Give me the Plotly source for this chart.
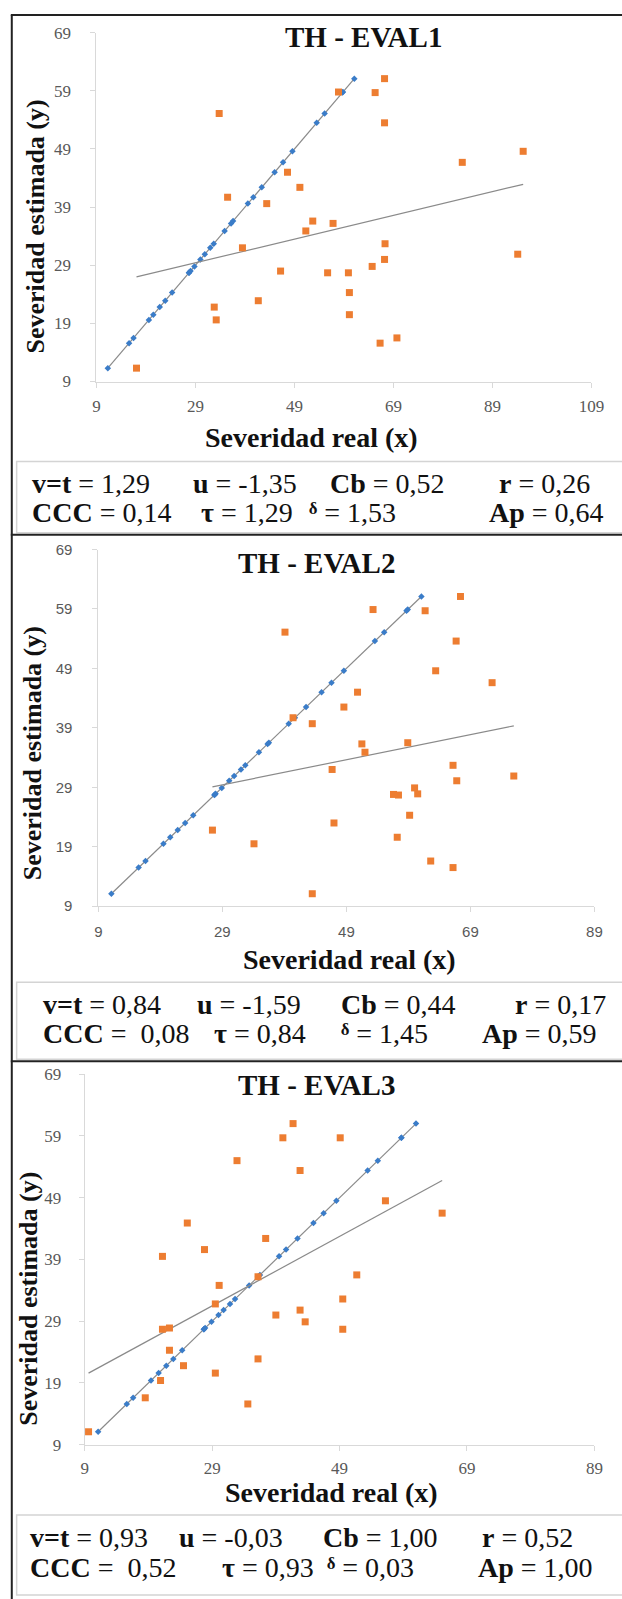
import numpy as np
import plotly.graph_objects as go

W, H = 622, 1599

# ---------------- data ----------------
titles = ["TH - EVAL1", "TH - EVAL2", "TH - EVAL3"]
x_ticks_1 = [9, 29, 49, 69, 89, 109]
x_ticks_23 = [9, 29, 49, 69, 89]
y_ticks = [9, 19, 29, 39, 49, 59, 69]

x1 = [33.8, 35.5, 32.8, 33.2, 17.1, 38.5, 41.7, 43.4, 46.2, 47.6, 50.1, 51.3, 52.7, 55.7, 56.8,
      57.9, 59.9, 60.1, 60.1, 64.7, 65.3, 66.3, 67.2, 67.2, 67.3, 67.2, 69.7, 82.9, 94.1, 95.2]
y1 = [55.1, 40.7, 21.8, 19.6, 11.3, 32.0, 22.9, 39.6, 28.0, 45.0, 42.4, 34.9, 36.6, 27.7, 36.2,
      58.8, 27.7, 24.3, 20.5, 28.8, 58.7, 15.6, 61.1, 53.5, 32.7, 30.0, 16.5, 46.7, 30.9, 48.6]

x2 = [27.4, 34.1, 39.1, 40.4, 43.5, 43.5, 46.7, 47.0, 48.6, 50.8, 51.5, 52.0, 53.3, 56.6, 57.4,
      57.2, 58.9, 59.2, 60.0, 60.5, 61.7, 62.6, 63.4, 66.2, 66.2, 66.7, 66.8, 67.4, 72.5, 76.0]
y2 = [21.8, 19.5, 55.1, 40.7, 39.7, 11.1, 32.0, 23.0, 42.5, 45.0, 36.3, 34.9, 58.9, 27.8, 27.7,
      20.6, 36.5, 24.3, 28.9, 27.9, 58.7, 16.6, 48.6, 32.7, 15.5, 53.6, 30.1, 61.1, 46.6, 30.9]

x3 = [9.6, 18.5, 20.9, 21.2, 21.2, 22.3, 22.3, 24.5, 25.1, 27.8, 29.5, 29.5, 30.1, 32.9, 34.6,
      36.2, 36.2, 37.4, 39.0, 40.1, 41.7, 42.8, 42.8, 43.6, 49.1, 49.5, 49.5, 51.7, 56.2, 65.1]
y3 = [11.1, 16.6, 19.4, 39.5, 27.7, 27.9, 24.3, 21.8, 44.9, 40.6, 20.6, 31.8, 34.8, 55.0, 15.6,
      22.9, 36.2, 42.4, 30.0, 58.7, 61.0, 53.4, 30.8, 28.9, 58.7, 32.6, 27.7, 36.5, 48.5, 46.5]

stats_1 = [["<b>v=t</b> = 1,29", "<b>u</b> = -1,35", "<b>Cb</b> = 0,52", "<b>r</b> = 0,26"],
           ["<b>CCC</b> = 0,14", "<b>τ</b> = 1,29", "<b>ᵟ</b> = 1,53", "<b>Ap</b> = 0,64"]]
stats_2 = [["<b>v=t</b> = 0,84", "<b>u</b> = -1,59", "<b>Cb</b> = 0,44", "<b>r</b> = 0,17"],
           ["<b>CCC</b> =  0,08", "<b>τ</b> = 0,84", "<b>ᵟ</b> = 1,45", "<b>Ap</b> = 0,59"]]
stats_3 = [["<b>v=t</b> = 0,93", "<b>u</b> = -0,03", "<b>Cb</b> = 1,00", "<b>r</b> = 0,52"],
           ["<b>CCC</b> =  0,52", "<b>τ</b> = 0,93", "<b>ᵟ</b> = 0,03", "<b>Ap</b> = 1,00"]]

ORANGE = "#ED7D31"
BLUE = "#3A7CC8"
LINE = "#8A8A8A"
SERIF = "Liberation Serif, DejaVu Serif, serif"
SANS = "Liberation Sans, Arial, sans-serif"


def fx(px):
    return px / W


def fy(py):
    return 1 - py / H


# layout geometry (pixels)
panels = [
    dict(x=x1, y=y1, dom=(95, 604, 24, 377), xr=[9, 109], xt=x_ticks_1, font=SERIF, tsize=17,
         xso=4, yso=16,
         title_xy=(370, 28), ytitle_xy=(32, 220), xtitle_xy=(316, 434), stats=stats_1,
         stat_x=[[27, 192, 333, 507], [27, 200, 312, 497]], stat_y=[480, 510],
         box=(13, 458, 530)),
    dict(x=x2, y=y2, dom=(97, 607, 547, 908), xr=[9, 89], xt=x_ticks_23, font=SANS, tsize=15,
         xso=7, yso=17,
         title_xy=(321, 561), ytitle_xy=(29, 753), xtitle_xy=(355, 962), stats=stats_2,
         stat_x=[[38, 196, 344, 523], [38, 214, 344, 489]], stat_y=[1007, 1037],
         box=(13, 985, 1063)),
    dict(x=x3, y=y3, dom=(83, 607, 1078, 1453), xr=[9, 89], xt=x_ticks_23, font=SERIF, tsize=17,
         xso=3, yso=14,
         title_xy=(321, 1089), ytitle_xy=(25, 1305), xtitle_xy=(337, 1501), stats=stats_3,
         stat_x=[[25, 178, 326, 489], [25, 222, 330, 485]], stat_y=[1547, 1577],
         box=(13, 1524, 1605)),
]

fig = go.Figure()
annotations = []
shapes = []
layout = {}

for i, p in enumerate(panels):
    k = "" if i == 0 else str(i + 1)
    xa, ya = "x" + k, "y" + k
    xs = np.array(p["x"])
    ys = np.array(p["y"])

    # identity (blue) points: estimated values projected on the line y = x
    order = np.argsort(ys)
    bx = ys[order]
    fig.add_trace(go.Scatter(x=bx, y=bx, mode="lines+markers", xaxis=xa, yaxis=ya,
                             line=dict(color=LINE, width=1.2),
                             marker=dict(symbol="diamond", size=5, color=BLUE),
                             cliponaxis=False, showlegend=False))
    # linear trend of observed points
    b, a = np.polyfit(xs, ys, 1)
    tx = np.array([xs.min(), xs.max()])
    fig.add_trace(go.Scatter(x=tx, y=a + b * tx, mode="lines", xaxis=xa, yaxis=ya,
                             line=dict(color=LINE, width=1.2), showlegend=False))
    fig.add_trace(go.Scatter(x=xs, y=ys, mode="markers", xaxis=xa, yaxis=ya,
                             marker=dict(symbol="square", size=7, color=ORANGE),
                             cliponaxis=False, showlegend=False))

    l, r, t, bt = p["dom"]
    common = dict(showgrid=False, zeroline=False, showline=True, linecolor="#D9D9D9",
                  linewidth=1, ticks="outside", ticklen=5, tickcolor="#D9D9D9",
                  tickfont=dict(family=p["font"], size=p["tsize"], color="#595959"))
    layout["xaxis" + k] = dict(domain=[fx(l), fx(r)], range=p["xr"], tickvals=p["xt"],
                               anchor=ya, ticklabelstandoff=p["xso"], **common)
    layout["yaxis" + k] = dict(domain=[fy(bt), fy(t)], range=[9, 69], tickvals=y_ticks,
                               anchor=xa, ticklabelstandoff=p["yso"], **common)

    annotations.append(dict(text="<b>%s</b>" % titles[i], x=fx(p["title_xy"][0]),
                            y=fy(p["title_xy"][1]), xref="paper", yref="paper",
                            showarrow=False, xanchor="center", yanchor="middle",
                            font=dict(family=SERIF, size=29, color="#111111")))
    annotations.append(dict(text="<b>Severidad estimada (y)</b>", x=fx(p["ytitle_xy"][0]),
                            y=fy(p["ytitle_xy"][1]), xref="paper", yref="paper",
                            showarrow=False, textangle=-90, xanchor="center", yanchor="middle",
                            font=dict(family=SERIF, size=26, color="#111111")))
    annotations.append(dict(text="<b>Severidad real (x)</b>", x=fx(p["xtitle_xy"][0]),
                            y=fy(p["xtitle_xy"][1]), xref="paper", yref="paper",
                            showarrow=False, xanchor="center", yanchor="middle",
                            font=dict(family=SERIF, size=28, color="#111111")))
    for row in range(2):
        for c in range(4):
            annotations.append(dict(text=p["stats"][row][c], x=fx(p["stat_x"][row][c]),
                                    y=fy(p["stat_y"][row]), xref="paper", yref="paper",
                                    showarrow=False, xanchor="left", yanchor="middle",
                                    font=dict(family=SERIF, size=28, color="#111111")))
    bl, btop, bb = p["box"]
    shapes.append(dict(type="rect", xref="paper", yref="paper", x0=fx(bl), x1=fx(640),
                       y0=fy(bb), y1=fy(btop), line=dict(color="#D4D4D4", width=1.5)))

# outer dark frames
for yy in [6, 532, 1065]:
    shapes.append(dict(type="line", xref="paper", yref="paper", x0=fx(7), x1=fx(640),
                       y0=fy(yy), y1=fy(yy), line=dict(color="#222222", width=2)))
shapes.append(dict(type="line", xref="paper", yref="paper", x0=fx(8), x1=fx(8),
                   y0=fy(1610), y1=fy(6), line=dict(color="#222222", width=2)))

fig.update_layout(width=W, height=H, margin=dict(l=0, r=0, t=0, b=0),
                  paper_bgcolor="white", plot_bgcolor="white",
                  annotations=annotations, shapes=shapes, **layout)

fig.write_html("out.html", config={"displayModeBar": False},
               post_script="document.body.style.margin='0';document.body.style.overflow='hidden';")
